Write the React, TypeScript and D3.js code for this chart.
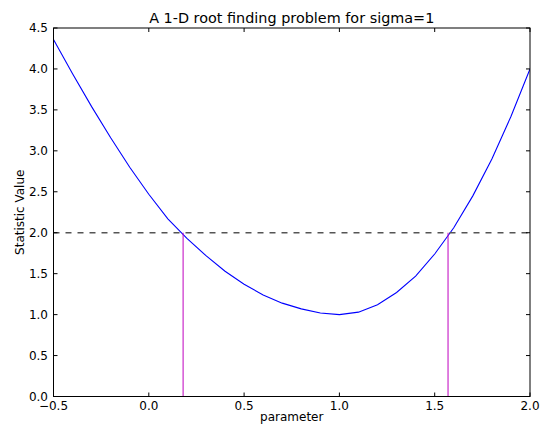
import React from 'react';
import * as d3 from 'd3';

const paramValues = [-0.5, -0.4, -0.3, -0.2, -0.1, 0.0, 0.1, 0.2, 0.3, 0.4, 0.5, 0.6, 0.7, 0.8, 0.9, 1.0, 1.1, 1.2, 1.3, 1.4, 1.5, 1.6, 1.7, 1.8, 1.9, 2.0];
const statValues = [4.36, 3.94, 3.54, 3.16, 2.80, 2.47, 2.17, 1.93, 1.72, 1.53, 1.37, 1.24, 1.14, 1.07, 1.02, 1.00, 1.03, 1.12, 1.27, 1.47, 1.74, 2.06, 2.45, 2.90, 3.42, 4.00];
const threshold = 2.0;
const roots = [0.18, 1.57];
const xTicks = [-0.5, 0.0, 0.5, 1.0, 1.5, 2.0];
const yTicks = [0.0, 0.5, 1.0, 1.5, 2.0, 2.5, 3.0, 3.5, 4.0, 4.5];

const W = 545, H = 425;
const left = 53.5, right = 530, top = 28, bottom = 396.5;
const font = 'DejaVu Sans, sans-serif';

export default function App() {
  const x = d3.scaleLinear().domain([-0.5, 2.0]).range([left, right]);
  const y = d3.scaleLinear().domain([0, 4.5]).range([bottom, top]);

  const line = d3.line<number>()
    .x((d, i) => x(paramValues[i]))
    .y((d) => y(d));

  return (
    <svg width={W} height={H} style={{ position: 'absolute', left: 0, top: 0, background: 'white' }}>
      <defs>
        <clipPath id="plot">
          <rect x={left} y={top} width={right - left} height={bottom - top} />
        </clipPath>
      </defs>
      <g clipPath="url(#plot)">
        <path d={line(statValues) || ''} fill="none" stroke="#0000ff" strokeWidth={1.1} />
        <line x1={left} x2={right} y1={y(threshold)} y2={y(threshold)}
          stroke="#555" strokeWidth={1.5} strokeDasharray="6,6" />
        {roots.map((r) => (
          <line key={r} x1={x(r)} x2={x(r)} y1={y(0)} y2={y(threshold)} stroke="#bf00bf" strokeWidth={1} />
        ))}
      </g>
      {/* ticks on all four sides, pointing inwards */}
      {xTicks.map((t) => (
        <g key={'x' + t}>
          <line x1={x(t)} x2={x(t)} y1={bottom} y2={bottom - 4} stroke="#000" />
          <line x1={x(t)} x2={x(t)} y1={top} y2={top + 4} stroke="#000" />
          <text x={x(t)} y={410} textAnchor="middle" fontFamily={font} fontSize={12}>
            {t < 0 ? '\u2212' + Math.abs(t).toFixed(1) : t.toFixed(1)}
          </text>
        </g>
      ))}
      {yTicks.map((t) => (
        <g key={'y' + t}>
          <line x1={left} x2={left + 4} y1={y(t)} y2={y(t)} stroke="#000" />
          <line x1={right} x2={right - 4} y1={y(t)} y2={y(t)} stroke="#000" />
          <text x={48} y={y(t)} dy="0.36em" textAnchor="end" fontFamily={font} fontSize={12}>
            {t.toFixed(1)}
          </text>
        </g>
      ))}
      <rect x={left} y={top} width={right - left} height={bottom - top} fill="none" stroke="#000" strokeWidth={1} />
      <text x={(left + right) / 2} y={23} textAnchor="middle" fontFamily={font} fontSize={14.4}>
        A 1-D root finding problem for sigma=1
      </text>
      <text x={(left + right) / 2} y={421} textAnchor="middle" fontFamily={font} fontSize={12}>
        parameter
      </text>
      <text transform={`translate(24, ${(top + bottom) / 2}) rotate(-90)`} textAnchor="middle" fontFamily={font} fontSize={12}>
        Statistic Value
      </text>
    </svg>
  );
}
